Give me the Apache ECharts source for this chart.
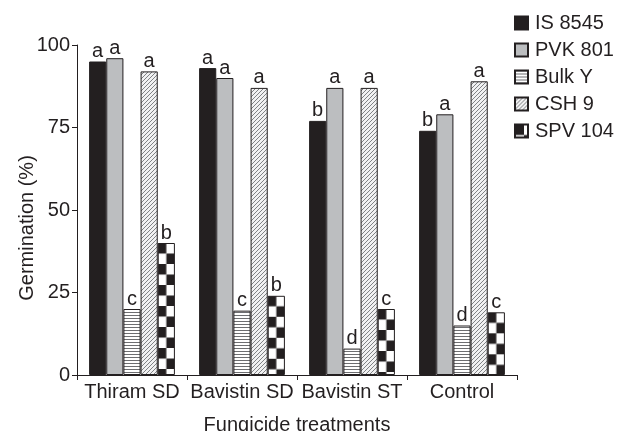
<!DOCTYPE html>
<html>
<head>
<meta charset="utf-8">
<script src="https://cdn.jsdelivr.net/npm/echarts@6/dist/echarts.min.js"></script>
<style>html,body{margin:0;padding:0;background:#fff;}#chart{width:618px;height:431px;}</style>
</head>
<body>
<div id="chart"></div>
<script>
const categories = ['Thiram SD', 'Bavistin SD', 'Bavistin ST', 'Control'];
const seriesNames = ['IS 8545', 'PVK 801', 'Bulk Y', 'CSH 9', 'SPV 104'];
const is8545 = [95, 93, 77, 74];
const pvk801 = [96, 90, 87, 79];
const bulkY = [20, 19.5, 8, 15];
const csh9 = [92, 87, 87, 89];
const spv104 = [40, 24, 20, 19];
const lettersIS = ['a', 'a', 'b', 'b'];
const lettersPVK = ['a', 'a', 'a', 'a'];
const lettersBulk = ['c', 'c', 'd', 'd'];
const lettersCSH = ['a', 'a', 'a', 'a'];
const lettersSPV = ['b', 'b', 'c', 'c'];
const yTicks = [0, 25, 50, 75, 100];

const INK = '#231f20';
const FONT = 'Liberation Sans, Arial, Helvetica, sans-serif';
const FS = 20;

function makeCanvas(w, h, draw) {
  const c = document.createElement('canvas');
  c.width = w; c.height = h;
  const ctx = c.getContext('2d');
  draw(ctx);
  return c;
}
const bulkImg = makeCanvas(4, 3, ctx => {
  ctx.fillStyle = '#fff'; ctx.fillRect(0, 0, 4, 3);
  ctx.fillStyle = '#6d6e71'; ctx.fillRect(0, 0, 4, 1);
});
const hatchImg = makeCanvas(4, 4, ctx => {
  ctx.fillStyle = '#f1f1f2'; ctx.fillRect(0, 0, 4, 4);
  ctx.fillStyle = '#808285';
  for (let i = 0; i < 4; i++) ctx.fillRect(i, 3 - i, 1, 1);
});
function checkerImg(cw, ch) {
  return makeCanvas(Math.round(cw * 2), Math.round(ch * 2), ctx => {
    ctx.fillStyle = '#fff'; ctx.fillRect(0, 0, cw * 2, ch * 2);
    ctx.fillStyle = INK;
    ctx.fillRect(0, 0, cw, ch);
    ctx.fillRect(cw, ch, cw, ch);
  });
}

const valueArrays = [is8545, pvk801, bulkY, csh9, spv104];
const letterArrays = [lettersIS, lettersPVK, lettersBulk, lettersCSH, lettersSPV];
const fills = [
  INK,
  '#bcbec0',
  { image: bulkImg, repeat: 'repeat' },
  { image: hatchImg, repeat: 'repeat' },
  { image: checkerImg(9, 10.5), repeat: 'repeat' }
];

const chart = echarts.init(document.getElementById('chart'), null, { renderer: 'canvas' });

const series = seriesNames.map((name, si) => ({
  name: name,
  type: 'bar',
  data: valueArrays[si],
  barGap: '0%',
  barCategoryGap: '22%',
  itemStyle: { color: fills[si], borderColor: INK, borderWidth: 1 },
  label: {
    show: true,
    position: 'top',
    distance: 0,
    fontFamily: FONT,
    fontSize: FS,
    color: INK,
    formatter: p => letterArrays[si][p.dataIndex]
  },
  emphasis: { disabled: true },
  animation: false
}));

chart.setOption({
  animation: false,
  backgroundColor: '#fff',
  textStyle: { fontFamily: FONT, color: INK },
  grid: { left: 77, right: 101, top: 45, bottom: 56, containLabel: false, outerBoundsMode: 'none' },
  legend: {
    orient: 'vertical',
    left: 509,
    top: 8,
    itemWidth: 13,
    itemHeight: 13,
    itemGap: 7,
    icon: 'rect',
    data: seriesNames,
    textStyle: { fontFamily: FONT, fontSize: FS, color: INK, padding: [0, 0, 0, 2] },
    selectedMode: false
  },
  xAxis: {
    type: 'category',
    data: categories,
    name: 'Fungicide treatments',
    nameLocation: 'middle',
    nameGap: 40,
    nameMoveOverlap: false,
    nameTextStyle: { fontFamily: FONT, fontSize: FS, color: INK },
    axisLine: { lineStyle: { color: INK, width: 1 } },
    axisTick: { show: true, inside: false, length: 5, interval: 0, lineStyle: { color: INK } },
    axisLabel: { fontFamily: FONT, fontSize: FS, color: INK, margin: 7, interval: 0 }
  },
  yAxis: {
    type: 'value',
    min: yTicks[0],
    max: yTicks[yTicks.length - 1],
    interval: yTicks[1] - yTicks[0],
    name: 'Germination (%)',
    nameLocation: 'middle',
    nameRotate: 90,
    nameGap: 40,
    nameMoveOverlap: false,
    nameTextStyle: { fontFamily: FONT, fontSize: FS, color: INK, padding: [0, 36, 0, 0] },
    axisLine: { show: true, lineStyle: { color: INK, width: 1 } },
    axisTick: { show: true, inside: false, length: 5, lineStyle: { color: INK } },
    axisLabel: { fontFamily: FONT, fontSize: FS, color: INK, margin: 7 },
    splitLine: { show: false }
  },
  series: series
});

// Align checker pattern to each SPV 104 bar (two columns per bar, anchored at bar top)
const spvData = chart.getModel().getSeriesByIndex(4).getData();
const spvItems = spv104.map((v, i) => {
  const lay = spvData.getItemLayout(i);
  const w = Math.abs(lay.width);
  const top = lay.y + Math.min(0, lay.height);
  const cw = w / 2, ch = 10.5;
  return {
    value: v,
    itemStyle: { color: { image: checkerImg(cw, ch), repeat: 'repeat', x: lay.x, y: top } }
  };
});
chart.setOption({ series: [{}, {}, {}, {}, { data: spvItems }] });
</script>
</body>
</html>
